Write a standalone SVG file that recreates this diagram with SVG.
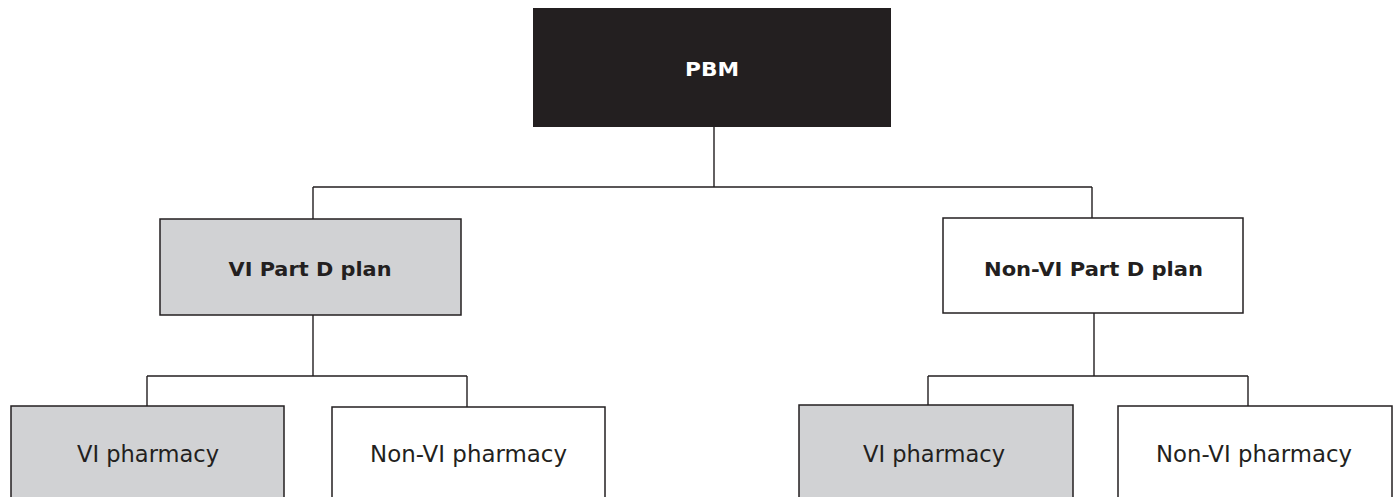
<svg xmlns="http://www.w3.org/2000/svg" width="1394" height="497" viewBox="0 0 1394 497">
<style>
.box{stroke:#231f20;stroke-width:1.5}
.grey{fill:#d1d2d4}
.white{fill:#ffffff}
.dark{fill:#231f20}
.conn{fill:none;stroke:#231f20;stroke-width:1.4}
.b{font-family:"DejaVu Sans",sans-serif;font-weight:bold;font-size:20px;fill:#231f20;text-anchor:middle}
.r{font-family:"DejaVu Sans",sans-serif;font-size:22.5px;fill:#231f20;text-anchor:middle}
</style>
<rect width="1394" height="497" fill="#ffffff"/>
<g id="connectors">
<path class="conn" d="M714 127V187M313 187H1092M313 187V219M1092 187V218"/>
<path class="conn" d="M313 315V376M147 376H467M147 376V406M467 376V407"/>
<path class="conn" d="M1094 313V376M928 376H1248M928 376V405M1248 376V406"/>
</g>
<g id="pbm">
<rect class="dark" x="533" y="8" width="358" height="119"/>
<text class="b" x="712" y="76" fill="#ffffff" style="fill:#ffffff" textLength="54" lengthAdjust="spacingAndGlyphs">PBM</text>
</g>
<g id="vi-plan">
<rect class="box grey" x="160" y="219" width="301" height="96"/>
<text class="b" x="310" y="276" textLength="163" lengthAdjust="spacingAndGlyphs">VI Part D plan</text>
</g>
<g id="nonvi-plan">
<rect class="box white" x="943" y="218" width="300" height="95"/>
<text class="b" x="1093.5" y="276" textLength="219" lengthAdjust="spacingAndGlyphs">Non-VI Part D plan</text>
</g>
<g id="vi-plan-vi-pharmacy">
<rect class="box grey" x="11" y="406" width="273" height="100"/>
<text class="r" x="148" y="462" textLength="142" lengthAdjust="spacingAndGlyphs">VI pharmacy</text>
</g>
<g id="vi-plan-nonvi-pharmacy">
<rect class="box white" x="332" y="407" width="273" height="100"/>
<text class="r" x="468.5" y="462" textLength="197" lengthAdjust="spacingAndGlyphs">Non-VI pharmacy</text>
</g>
<g id="nonvi-plan-vi-pharmacy">
<rect class="box grey" x="799" y="405" width="274" height="100"/>
<text class="r" x="934" y="462" textLength="142" lengthAdjust="spacingAndGlyphs">VI pharmacy</text>
</g>
<g id="nonvi-plan-nonvi-pharmacy">
<rect class="box white" x="1118" y="406" width="274" height="100"/>
<text class="r" x="1254" y="462" textLength="196" lengthAdjust="spacingAndGlyphs">Non-VI pharmacy</text>
</g>
</svg>
